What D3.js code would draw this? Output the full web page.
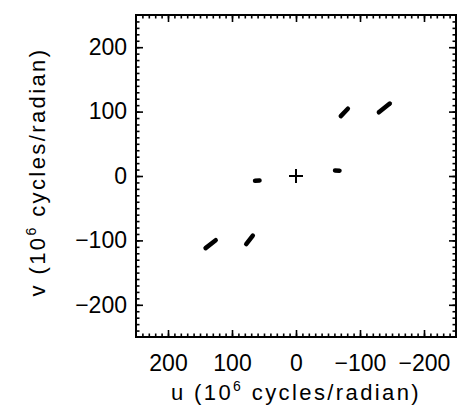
<!DOCTYPE html>
<html>
<head>
<meta charset="utf-8">
<script src="https://cdn.jsdelivr.net/npm/d3@7"></script>
<style>
  body { margin: 0; background: #fff; }
  svg { display: block; }
  .axis text { font-family: "Liberation Sans", Arial, Helvetica, sans-serif; font-size: 23px; fill: #000; }
  .axis line { stroke: #000; stroke-width: 1.6; }
  .title { font-family: "Liberation Sans", Arial, Helvetica, sans-serif; font-size: 22px; letter-spacing: 2.4px; fill: #000; }
</style>
</head>
<body>
<div id="chart"></div>
<script>
// uv tracks, each one a list of [u, v] points (10^6 cycles/radian)
const trackA = [[-70, 93], [-81, 104.5]];
const trackB = [[-129.5, 99], [-146.5, 112.5]];
const trackC = [[-61, 8.7], [-68, 8.3]];
const trackD = [[57, -7], [64, -7.5]];
const trackE = [[77.8, -105.7], [67.5, -92.5]];
const trackF = [[141.3, -112], [125.5, -99.7]];
const tracks = [trackA, trackB, trackC, trackD, trackE, trackF];

// phase centre marker
const origin = [0, 0];

const uDomain = [250, -250];
const vDomain = [-250, 250];
const majorTicks = [200, 100, 0, -100, -200];
const minorTicks = d3.range(-240, 250, 10);

const W = 471, H = 411;
const margin = { top: 15, right: 15, bottom: 74, left: 136 };
const width = W - margin.left - margin.right;   // 320
const height = H - margin.top - margin.bottom;  // 322

const svg = d3.select("#chart").append("svg")
  .attr("width", W)
  .attr("height", H);

const g = svg.append("g")
  .attr("transform", `translate(${margin.left},${margin.top})`);

const x = d3.scaleLinear().domain(uDomain).range([0, width]);
const y = d3.scaleLinear().domain(vDomain).range([height, 0]);

// minor ticks on all four sides, pointing inward
const minorAxes = [
  [d3.axisBottom(x), `translate(0,${height})`],
  [d3.axisTop(x), "translate(0,0)"],
  [d3.axisLeft(y), "translate(0,0)"],
  [d3.axisRight(y), `translate(${width},0)`],
];
minorAxes.forEach(([ax, tr]) => {
  g.append("g")
    .attr("class", "axis")
    .attr("transform", tr)
    .call(ax.tickValues(minorTicks).tickSize(-3.5).tickSizeOuter(0).tickFormat(""))
    .call((s) => s.select(".domain").remove());
});

// major ticks, labelled on bottom and left only
g.append("g")
  .attr("class", "axis")
  .attr("transform", `translate(0,${height})`)
  .call(d3.axisBottom(x).tickValues(majorTicks).tickSize(-7).tickSizeOuter(0).tickPadding(18))
  .call((s) => s.select(".domain").remove());

g.append("g")
  .attr("class", "axis")
  .call(d3.axisTop(x).tickValues(majorTicks).tickSize(-7).tickSizeOuter(0).tickFormat(""))
  .call((s) => s.select(".domain").remove());

g.append("g")
  .attr("class", "axis")
  .call(d3.axisLeft(y).tickValues(majorTicks).tickSize(-7).tickSizeOuter(0).tickPadding(9))
  .call((s) => s.select(".domain").remove());

g.append("g")
  .attr("class", "axis")
  .attr("transform", `translate(${width},0)`)
  .call(d3.axisRight(y).tickValues(majorTicks).tickSize(-7).tickSizeOuter(0).tickFormat(""))
  .call((s) => s.select(".domain").remove());

// frame
g.append("rect")
  .attr("width", width)
  .attr("height", height)
  .attr("fill", "none")
  .attr("stroke", "#000")
  .attr("stroke-width", 2);

// tracks
const line = d3.line().x((d) => x(d[0])).y((d) => y(d[1]));
g.selectAll(".track")
  .data(tracks)
  .join("path")
  .attr("class", "track")
  .attr("d", line)
  .attr("fill", "none")
  .attr("stroke", "#000")
  .attr("stroke-width", 4.5)
  .attr("stroke-linecap", "round");

// plus at the origin
const ox = x(origin[0]), oy = y(origin[1]), arm = 7;
g.append("path")
  .attr("d", `M${ox - arm},${oy}H${ox + arm}M${ox},${oy - arm}V${oy + arm}`)
  .attr("stroke", "#000")
  .attr("stroke-width", 2)
  .attr("fill", "none");

// axis titles
const xTitle = svg.append("text")
  .attr("class", "title")
  .attr("x", margin.left + width / 2)
  .attr("y", 400)
  .attr("text-anchor", "middle");
xTitle.append("tspan").text("u (10");
xTitle.append("tspan").attr("dy", -9).attr("font-size", "14px").text("6");
xTitle.append("tspan").attr("dy", 9).text(" cycles/radian)");

const yTitle = svg.append("text")
  .attr("class", "title")
  .attr("transform", `translate(45,${margin.top + height / 2 - 4}) rotate(-90)`)
  .attr("text-anchor", "middle");
yTitle.append("tspan").text("v (10");
yTitle.append("tspan").attr("dy", -9).attr("font-size", "14px").text("6");
yTitle.append("tspan").attr("dy", 9).text(" cycles/radian)");
</script>
</body>
</html>
